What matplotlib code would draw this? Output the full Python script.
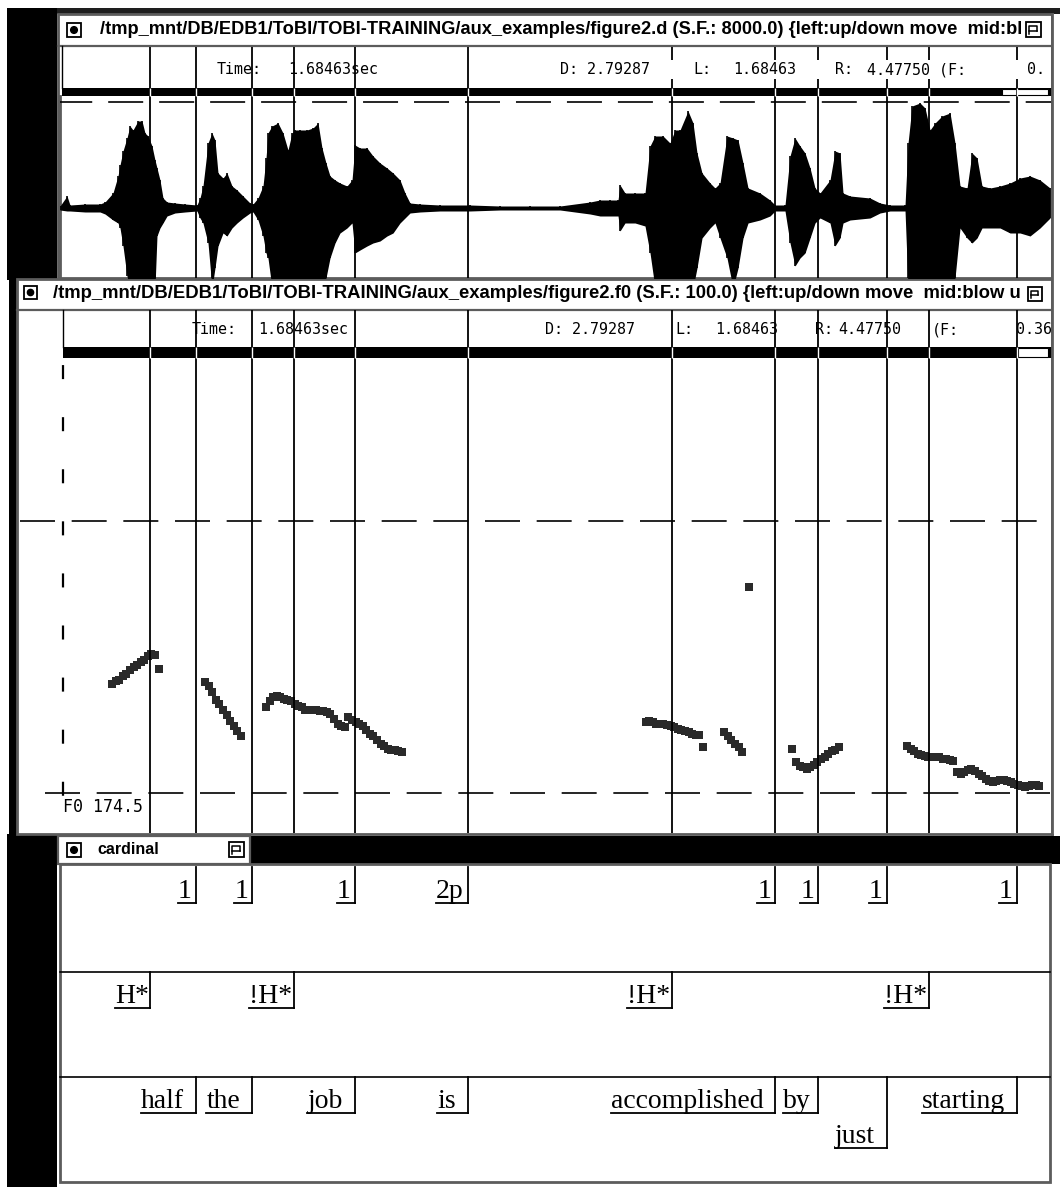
import numpy as np
import matplotlib
matplotlib.use("Agg")
from matplotlib import pyplot as plt
from matplotlib.patches import Rectangle, Circle
from matplotlib.transforms import blended_transform_factory, offset_copy

plt.rcParams['lines.scale_dashes'] = False

W, H = 1060, 1187

# view shown in the xwaves header
T_LEFT = 1.68463
T_RIGHT = 4.47750
T_DUR = 2.79287
CURSOR_TIME = 1.68463
F0_CURSOR = 174.5
WAVE_SF = 8000.0
F0_SF = 100.0

# label file "cardinal": break indices, tones, words (seconds)
break_times = [2.064, 2.221, 2.508, 2.824, 3.682, 3.802, 3.994, 4.357]
break_labels = ['1', '1', '1', '2p', '1', '1', '1', '1']
tone_times = [1.936, 2.338, 3.394, 4.112]
tone_labels = ['H*', '!H*', '!H*', '!H*']
word_times = [2.064, 2.221, 2.508, 2.824, 3.682, 3.802, 3.994, 4.357]
word_labels = ['half', 'the', 'job', 'is', 'accomplished', 'by', 'just', 'starting']
word_rows = [0, 0, 0, 0, 0, 0, 1, 0]

# waveform envelope (arbitrary amplitude units)
wave_t = [1.6846, 1.7042, 1.7125, 1.7544, 1.7963, 1.8103, 1.8326, 1.8466, 1.8522, 1.8606,
          1.8717, 1.8801, 1.8885, 1.9025, 1.9136, 1.9220, 1.9304, 1.9416, 1.9499, 1.9555,
          1.9639, 1.9723, 1.9835, 2.0058, 2.0337, 2.0672,
          2.0756, 2.0840, 2.0980, 2.1091, 2.1175, 2.1259, 2.1399, 2.1510, 2.1650, 2.1790,
          2.1957, 2.2153,
          2.2237, 2.2376, 2.2516, 2.2600, 2.2655, 2.2767, 2.2935, 2.3074, 2.3214, 2.3326,
          2.3410, 2.3549, 2.3745, 2.3912, 2.4052, 2.4164, 2.4275, 2.4387, 2.4527, 2.4666,
          2.4862, 2.5002,
          2.5085, 2.5225, 2.5421, 2.5588, 2.5784, 2.5979, 2.6147, 2.6342, 2.6482, 2.6622,
          2.6901, 2.7459, 2.8297, 2.9135, 2.9973, 3.0811, 3.1649, 3.1928, 3.2208, 3.2431,
          3.2487, 3.2626, 3.2906, 3.3185,
          3.3325, 3.3464, 3.3688, 3.3883, 3.4023, 3.4163, 3.4386, 3.4526, 3.4637, 3.4777,
          3.5001, 3.5140, 3.5280, 3.5475, 3.5643, 3.5783, 3.5922, 3.6062, 3.6397, 3.6676,
          3.6816, 3.7095,
          3.7235, 3.7375, 3.7514, 3.7654, 3.7794, 3.7933, 3.8073, 3.8352, 3.8492, 3.8631,
          3.8715, 3.8911, 3.9469, 3.9749, 4.0028, 4.0447,
          4.0531, 4.0642, 4.0866, 4.1005, 4.1145, 4.1285, 4.1480, 4.1704, 4.1843, 4.1983,
          4.2179, 4.2318, 4.2458, 4.2597, 4.2821, 4.3100, 4.3380, 4.3659, 4.3938, 4.4217,
          4.4497]
wave_hi = [2, 12, 3, 4, 4, 6, 15, 32, 43, 57,
           70, 82, 78, 87, 87, 75, 72, 62, 48, 40,
           28, 10, 6, 5, 4, 3,
           10, 22, 65, 75, 68, 35, 30, 35, 22, 18,
           12, 5,
           4, 10, 22, 50, 75, 82, 85, 75, 58, 75,
           78, 78, 78, 80, 85, 60, 45, 32, 28, 25,
           22, 28,
           63, 60, 60, 52, 45, 40, 35, 28, 15, 5,
           4, 3, 3, 2, 2, 2, 6, 8, 8, 8,
           23, 15, 15, 15,
           62, 72, 72, 65, 78, 78, 97, 85, 55, 35,
           25, 20, 25, 72, 70, 68, 45, 20, 15, 8,
           3, 3,
           52, 70, 62, 55, 40, 20, 15, 28, 57, 55,
           15, 12, 10, 5, 3, 3,
           65, 102, 105, 100, 78, 85, 92, 95, 65, 22,
           20, 55, 50, 22, 20, 22, 25, 30, 32, 28,
           20]
wave_lo = [-2, -3, -3, -4, -4, -6, -12, -15, -20, -38,
           -68, -80, -80, -80, -80, -80, -80, -80, -80, -28,
           -20, -15, -8, -5, -4, -3,
           -10, -15, -35, -80, -60, -38, -25, -28, -20, -15,
           -10, -5,
           -4, -12, -28, -45, -50, -80, -80, -80, -80, -80,
           -80, -80, -80, -80, -80, -80, -70, -50, -35, -25,
           -20, -15,
           -45, -42, -38, -35, -33, -28, -25, -15, -10, -5,
           -4, -3, -3, -2, -2, -2, -6, -8, -8, -8,
           -23, -15, -15, -18,
           -45, -80, -80, -80, -80, -80, -80, -80, -60, -30,
           -20, -15, -30, -50, -80, -60, -30, -15, -12, -8,
           -3, -3,
           -35, -58, -50, -45, -30, -15, -10, -15, -38, -30,
           -15, -12, -10, -5, -3, -3,
           -80, -80, -80, -80, -80, -80, -80, -80, -70, -20,
           -30, -35, -30, -20, -20, -20, -25, -25, -28, -20,
           -10]

# F0 tracks (Hz), one value per 10 ms frame from the start time
f0_half = (1.83, [262, 264, 265, 268, 270, 273, 275, 277, 279, 281, 284, 286, 285, 274])
f0_the = (2.09, [263, 260, 255, 249, 246, 241, 237, 232, 228, 224, 220])
f0_job = (2.26, [243, 248, 251, 252, 251, 250, 249, 248, 246, 244,
                 243, 241, 241, 241, 241, 240, 240, 239, 238, 234,
                 230, 228, 227, 235, 233, 231, 230, 228, 225, 222,
                 220, 217, 214, 212, 210, 209, 209, 208, 207])
f0_accomp = (3.32, [231, 232, 231, 230, 230, 230, 229, 228, 227, 226, 225, 224, 223, 222,
                    221, 221, 211])
f0_accomp2 = (3.54, [223, 220, 217, 214, 211, 207])
f0_lone = (3.61, [339])
f0_byjust = (3.73, [210, 199, 196, 195, 194, 195, 197, 199, 202, 203, 206, 208, 209, 211])
f0_starting = (4.05, [212, 210, 208, 206, 205, 204, 203, 203, 203, 203,
                      202, 202, 201, 200, 191, 190, 191, 193, 194, 192,
                      190, 188, 186, 184, 183, 184, 185, 185, 184, 183,
                      182, 181, 180, 179, 180, 181, 181, 180])
f0_ref_lines = [392.1, F0_CURSOR]

INK = 'black'
FRAME = '#5c5c5c'
MONO = 'DejaVu Sans Mono'
SERIF = 'Liberation Serif'

fig = plt.figure(figsize=(W / 100, H / 100), dpi=100)
fig.patch.set_facecolor('white')
renderer = fig.canvas.get_renderer()


def px_axes(x0, y0, x1, y1, z):
    ax = fig.add_axes([x0 / W, 1 - y1 / H, (x1 - x0) / W, (y1 - y0) / H], zorder=z)
    ax.set_axis_off()
    return ax


def rect(ax, x0, y0, x1, y1, fc='white', ec='none', lw=0, z=1):
    ax.add_patch(Rectangle((x0, y0), x1 - x0, y1 - y0, facecolor=fc, edgecolor=ec,
                           linewidth=lw, zorder=z))


def fit_text(ax, x, y, s, width, **kw):
    t = ax.text(x, y, s, **kw)
    w = t.get_window_extent(renderer).width
    t.set_fontsize(t.get_fontsize() * width / w)
    return t


def dot_icon(ax, x, y, s=14):
    rect(ax, x, y, x + s, y + s, ec=INK, lw=1.3, z=4)
    ax.add_patch(Circle((x + s / 2, y + s / 2), s * 0.24, color=INK, zorder=5))


def resize_icon(ax, x, y, s=15):
    rect(ax, x, y, x + s, y + s, ec=INK, lw=1.3, z=4)
    ax.plot([x + 3, x + 3, x + s - 4, x + s - 4], [y + s - 3, y + 4, y + 4, y + s * 0.6],
            color=INK, lw=1.1, zorder=5)
    ax.plot([x + 3, x + s - 4], [y + s * 0.6, y + s * 0.6], color=INK, lw=1.1, zorder=5)


# ---------------- window chrome (pixel coordinates) ----------------
bg = px_axes(0, 0, W, H, 0)
bg.set_xlim(0, W)
bg.set_ylim(H, 0)

rect(bg, 7, 8, 57, 280, fc=INK)
rect(bg, 57, 8, W, 14, fc='#1e1e1e')
rect(bg, 9, 278, 17, 836, fc=INK)
rect(bg, 7, 834, 57, H, fc=INK)
rect(bg, 250, 836, W, 864, fc=INK)

# waveform window
rect(bg, 58, 14, 1052, 278, ec=FRAME, lw=2, z=1)
bg.plot([58, 1052], [46, 46], color=FRAME, lw=1.6, zorder=2)
bg.plot([62, 62], [46, 88], color=INK, lw=1, zorder=2)
rect(bg, 62, 88, 1052, 96, fc=INK, z=2)
rect(bg, 1002, 89, 1048, 95, fc='white', ec=INK, lw=0.8, z=3)
bg.plot([60, 60], [96, 278], color=FRAME, lw=2, zorder=2)
dot_icon(bg, 67, 23)
resize_icon(bg, 1026, 22)
fit_text(bg, 100, 30, "/tmp_mnt/DB/EDB1/ToBI/TOBI-TRAINING/aux_examples/figure2.d "
         "(S.F.: %.1f) {left:up/down move  mid:bl" % WAVE_SF, 918,
         family='Liberation Sans', weight='bold', fontsize=12, va='center')

# F0 window
rect(bg, 17, 279, 1052, 834, ec=FRAME, lw=2, z=1)
bg.plot([17, 1052], [310, 310], color=FRAME, lw=1.6, zorder=2)
bg.plot([63, 63], [310, 347], color=INK, lw=1, zorder=2)
rect(bg, 63, 347, 1052, 358, fc=INK, z=2)
rect(bg, 1018, 348, 1048, 357, fc='white', ec=INK, lw=0.8, z=3)
dot_icon(bg, 24, 286, 13)
resize_icon(bg, 1028, 287, 14)
fit_text(bg, 53, 294, "/tmp_mnt/DB/EDB1/ToBI/TOBI-TRAINING/aux_examples/figure2.f0 "
         "(S.F.: %.1f) {left:up/down move  mid:blow u" % F0_SF, 968,
         family='Liberation Sans', weight='bold', fontsize=12, va='center')

# label window
rect(bg, 58, 836, 250, 864, ec=FRAME, lw=1.6, z=2)
rect(bg, 60, 864, 1050, 1182, ec=FRAME, lw=2, z=1)
bg.plot([60, 1050], [972, 972], color=INK, lw=1.2, zorder=2)
bg.plot([60, 1050], [1077, 1077], color=INK, lw=1.2, zorder=2)
dot_icon(bg, 67, 843)
resize_icon(bg, 229, 842)
bg.text(97, 850, "cardinal", family='Liberation Sans', weight='bold', fontsize=11.5,
        va='center')

# header readouts (lines are drawn over these)
info = dict(family=MONO, fontsize=10.8, va='center', color=INK)
freq = "%.2f" % (1 / T_DUR)
bg.text(217, 70, "Time:", **info)
bg.text(288, 70, "%.5fsec" % CURSOR_TIME, **info)
bg.text(192, 330, "Time:", **info)
bg.text(258, 330, "%.5fsec" % CURSOR_TIME, **info)
for x, s in [(545, "D: %.5f" % T_DUR), (675, "L:"), (715, "%.5f" % T_LEFT), (815, "R:"),
             (838, "%.5f" % T_RIGHT), (932, "(F:"), (1016, freq)]:
    bg.text(x, 330, s, **info)
bg.text(63, 807, "F0 %.1f" % F0_CURSOR, family=MONO, fontsize=12, va='center')

# ---------------- waveform ----------------
wave_ax = px_axes(60, 96, 1060, 278, 1)
wave_ax.set_xlim(T_LEFT, T_RIGHT)
wave_ax.set_ylim(-70, 112)
wave_ax.fill_between(wave_t, wave_lo, wave_hi, color=INK, lw=0)
wave_ax.vlines(wave_t, wave_lo, wave_hi, color=INK, lw=1.2)
wave_ax.axhline(106, color=INK, lw=1.2, ls=(2, (25.2, 11.5)))

# ---------------- F0 ----------------
f0_ax = px_axes(60, 358, 1060, 833, 1)
f0_ax.set_xlim(T_LEFT, T_RIGHT)
f0_ax.set_ylim(142.5, 522.5)
for t0, vals in [f0_half, f0_the, f0_job, f0_accomp, f0_accomp2, f0_lone, f0_byjust,
                 f0_starting]:
    tt = t0 + np.arange(len(vals)) / F0_SF
    f0_ax.plot(tt, vals, 's', ms=5.6, color='#2a2a2a', mew=0)
blend = blended_transform_factory(f0_ax.transAxes, f0_ax.transData)
for v, x0 in zip(f0_ref_lines, [-0.04, -0.015]):
    f0_ax.plot([x0, 0.99], [v, v], transform=blend, color=INK, lw=1.2,
               ls=(0, (25.2, 12.0)), clip_on=False)
f0_ax.plot([0.003, 0.003], [1, 0.068], transform=f0_ax.transAxes, color=INK, lw=1.6,
           ls=(32.4, (10.1, 27.4)), clip_on=False)

# ---------------- time-aligned marks and labels ----------------
tl = px_axes(60, 0, 1060, H, 2)
tl.set_xlim(T_LEFT, T_RIGHT)
tl.set_ylim(H, 0)
mark_times = sorted(set(tone_times) | set(word_times))
tl.vlines(mark_times, 47, 278, color=INK, lw=1.3)
tl.vlines(mark_times, 310, 833, color=INK, lw=1.3)
tl.vlines(mark_times, 88, 96, color='white', lw=1.0, zorder=3)
tl.vlines(mark_times, 347, 358, color='white', lw=1.0, zorder=3)


def draw_tier(times, labels, top, gap, rows=None):
    prev = None
    for i, (t, s) in enumerate(zip(times, labels)):
        ybot = top + 36 + (35 * rows[i] if rows else 0)
        txt = tl.text(t, ybot - 5, s, ha='right', va='baseline', family=SERIF,
                      fontsize=20)
        width = txt.get_window_extent(renderer).width
        g = gap
        if prev is not None and (rows is None or rows[i] == 0):
            room = tl.transData.transform((t, 0))[0] - tl.transData.transform((prev, 0))[0]
            g = max(2, min(gap, room - width - 8))
        txt.set_transform(offset_copy(tl.transData, fig, x=-g, y=0, units='dots'))
        bb = txt.get_window_extent(renderer)
        xl = tl.transData.inverted().transform((bb.x0, bb.y0))[0]
        tl.plot([t, t], [top, ybot], color=INK, lw=1.3)
        tl.plot([xl, t], [ybot, ybot], color=INK, lw=1.3)
        prev = t


draw_tier(break_times, break_labels, 867, 4)
draw_tier(tone_times, tone_labels, 972, 1)
draw_tier(word_times, word_labels, 1077, 12, word_rows)

# ---------------- overlay: covered readouts of the top window ----------------
fg = px_axes(0, 0, W, H, 3)
fg.set_xlim(0, W)
fg.set_ylim(H, 0)
rect(fg, 545, 60, 1049, 79, z=1)
for x, s in [(560, "D: %.5f" % T_DUR), (693, "L:"), (733, "%.5f" % T_LEFT), (835, "R:"),
             (867, "%.5f (F:" % T_RIGHT), (1027, freq[:2])]:
    fg.text(x, 70, s, **info)
rect(fg, 1053, 14, W, 834, z=1)
fg.plot([1052, 1052], [14, 834], color=FRAME, lw=2, zorder=2)

fig.savefig("out.png", dpi=100, facecolor='white')
